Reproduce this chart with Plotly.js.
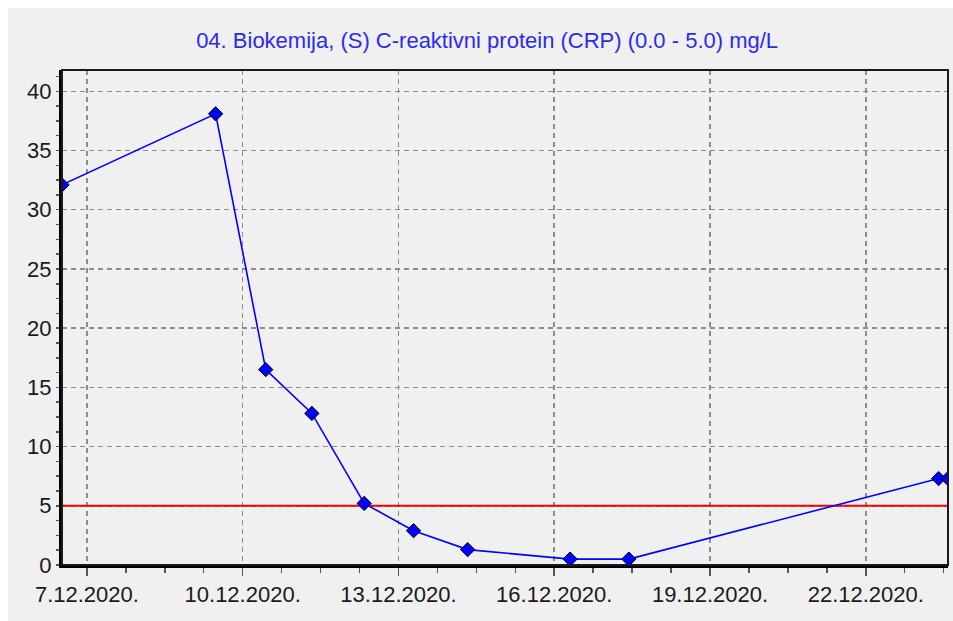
<!DOCTYPE html>
<html>
<head>
<meta charset="utf-8">
<script src="https://cdn.plot.ly/plotly-3.0.1.min.js"></script>
<style>
  html, body { margin: 0; padding: 0; background: #ffffff; width: 953px; height: 621px; overflow: hidden; }
  #chart { position: absolute; left: 8px; top: 8px; width: 945px; height: 613px; }
</style>
</head>
<body>
<div id="chart"></div>
<script>
// Sample times and CRP values (mg/L)
const sampleDates = [
  '2020-12-06 12:30', '2020-12-09 11:30', '2020-12-10 10:40', '2020-12-11 08:00',
  '2020-12-12 08:10', '2020-12-13 07:00', '2020-12-14 08:00', '2020-12-16 07:20',
  '2020-12-17 10:30', '2020-12-23 09:40', '2020-12-23 14:00'
];
const crpValues = [32.1, 38.1, 16.5, 12.8, 5.2, 2.9, 1.3, 0.5, 0.5, 7.3, 7.3];
const upperLimit = 5.0;
const titleText = '04. Biokemija, (S) C-reaktivni protein (CRP) (0.0 - 5.0) mg/L';

const DAY = 86400000;
const tickFont = { family: 'Liberation Sans, Arial, sans-serif', size: 22, color: '#1a1a1a' };
const firstDate = sampleDates[0];
const lastDate = sampleDates[sampleDates.length - 1];

const data = [
  {
    x: [firstDate, lastDate],
    y: [upperLimit, upperLimit],
    type: 'scatter',
    mode: 'lines',
    line: { color: '#ff0000', width: 2 },
    hoverinfo: 'skip'
  },
  {
    x: sampleDates,
    y: crpValues,
    type: 'scatter',
    mode: 'lines+markers',
    line: { color: '#0000ff', width: 1.6 },
    marker: { symbol: 'diamond', size: 11, color: '#0000ff', line: { color: '#000000', width: 1 } },
    hoverinfo: 'x+y'
  }
];

const layout = {
  width: 945,
  height: 613,
  paper_bgcolor: '#f0f0f0',
  plot_bgcolor: '#f0f0f0',
  margin: { l: 54, r: 5, t: 62, b: 56 },
  showlegend: false,
  title: {
    text: titleText,
    font: { family: 'Liberation Sans, Arial, sans-serif', size: 22, color: '#2b2bf0' },
    xref: 'container', yref: 'container',
    x: 0.507, xanchor: 'center',
    y: 0.948, yanchor: 'middle'
  },
  xaxis: {
    type: 'date',
    range: [firstDate, lastDate],
    tick0: '2020-12-07',
    dtick: 3 * DAY,
    tickformat: '%-d.%m.%Y.',
    ticks: 'outside', ticklen: 8, tickwidth: 1.5, tickcolor: '#555',
    minor: { dtick: 0.75 * DAY, tick0: '2020-12-07', ticks: 'outside', ticklen: 5, tickwidth: 1.5, tickcolor: '#555', showgrid: false },
    showgrid: true, gridcolor: '#8c8c8c', gridwidth: 1.5, griddash: '5px,4px',
    showline: true, linecolor: '#000000', linewidth: 3,
    zeroline: false,
    tickfont: tickFont,
    fixedrange: true
  },
  yaxis: {
    range: [0, 41.8],
    dtick: 5,
    tick0: 0,
    ticks: 'outside', ticklen: 3, tickwidth: 1.5, tickcolor: '#555',
    minor: { dtick: 1.25, ticks: 'outside', ticklen: 3, tickwidth: 1.5, tickcolor: '#555', showgrid: false },
    showgrid: true, gridcolor: '#8c8c8c', gridwidth: 1.5, griddash: '5px,4px',
    showline: true, linecolor: '#000000', linewidth: 3,
    zeroline: false,
    tickfont: tickFont,
    fixedrange: true
  },
  shapes: [
    {
      type: 'rect', xref: 'paper', yref: 'paper',
      x0: 0, x1: 1, y0: 0, y1: 1,
      line: { color: '#1a1a1a', width: 2 },
      layer: 'above'
    }
  ]
};

Plotly.newPlot('chart', data, layout, { displayModeBar: false, staticPlot: true });
</script>
</body>
</html>
